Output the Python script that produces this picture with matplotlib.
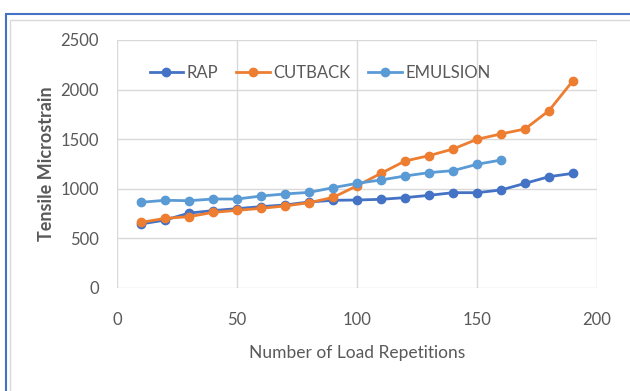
import matplotlib.pyplot as plt
from matplotlib.patches import Rectangle

# dados
reps = [10, 20, 30, 40, 50, 60, 70, 80, 90, 100, 110, 120, 130, 140, 150, 160, 170, 180, 190]
rap = [645, 685, 755, 780, 800, 820, 837, 867, 884, 887, 894, 911, 934, 961, 961, 988, 1055, 1122, 1156]
cutback = [662, 702, 719, 762, 783, 803, 827, 860, 913, 1030, 1156, 1280, 1334, 1401, 1499, 1553, 1603, 1788, 2090]
reps_emulsion = [10, 20, 30, 40, 50, 60, 70, 80, 90, 100, 110, 120, 130, 140, 150, 160]
emulsion = [864, 884, 880, 897, 897, 927, 948, 964, 1011, 1055, 1089, 1129, 1163, 1183, 1247, 1290]

plt.rcParams['font.family'] = ['Lato', 'DejaVu Sans']

fig = plt.figure(figsize=(6.3, 3.91), dpi=100)
ax = fig.add_axes([117 / 630, 1 - 288 / 391, 480 / 630, 248 / 391])

# moldura azul do grafico
fig.patches.append(Rectangle((6 / 630, -0.1), 1.2, 1 - 14 / 391 + 0.1, transform=fig.transFigure,
                             fill=False, edgecolor='#4472C4', linewidth=1.5))
fig.patches.append(Rectangle((10 / 630, -0.1), 1.2, 1 - 20 / 391 + 0.1, transform=fig.transFigure,
                             fill=False, edgecolor='#d9d9d9', linewidth=1))

ax.plot(reps, rap, color='#4472C4', marker='o', markersize=6, linewidth=2, label='RAP')
ax.plot(reps, cutback, color='#ED7D31', marker='o', markersize=6, linewidth=2, label='CUTBACK')
ax.plot(reps_emulsion, emulsion, color='#5B9BD5', marker='o', markersize=6, linewidth=2, label='EMULSION')

ax.set_xlim(0, 200)
ax.set_ylim(0, 2500)
ax.set_xticks([0, 50, 100, 150, 200])
ax.set_yticks([0, 500, 1000, 1500, 2000, 2500])
ax.grid(True, color='#d9d9d9', linewidth=1)
ax.set_axisbelow(True)
for s in ax.spines.values():
    s.set_visible(False)
ax.tick_params(length=0, labelsize=12, colors='#595959')
ax.tick_params(axis='y', pad=13)
ax.tick_params(axis='x', pad=17)

ax.set_xlabel('Number of Load Repetitions', fontsize=12.5, color='#595959')
ax.set_ylabel('Tensile Microstrain', fontsize=13, color='#595959', fontweight='bold')
ax.xaxis.set_label_coords(0.5, -0.23)
ax.yaxis.set_label_coords(-0.13, 0.5)

ax.legend(loc='center', bbox_to_anchor=(0.423, 0.867), ncol=3, frameon=False, fontsize=12,
          handlelength=2.0, handletextpad=0.2, columnspacing=1.1, labelcolor='#595959')

plt.savefig('out.png', dpi=100)
